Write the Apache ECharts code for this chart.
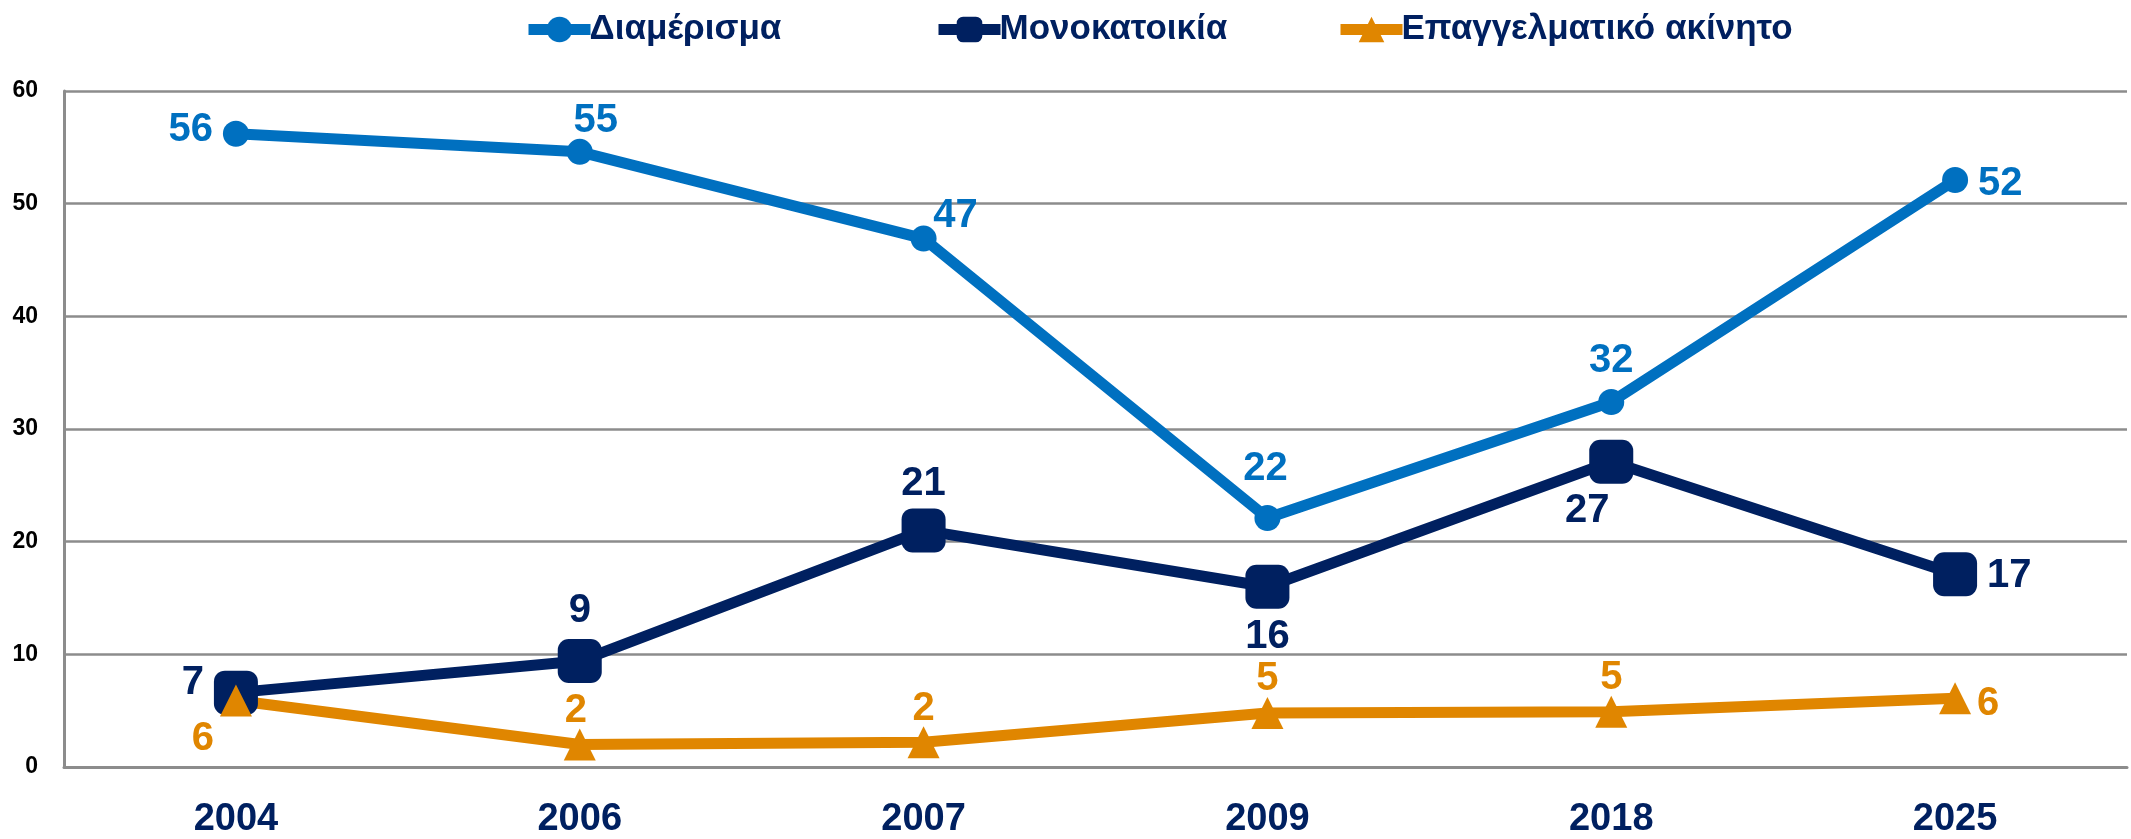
<!DOCTYPE html>
<html>
<head>
<meta charset="utf-8">
<script src="https://cdn.jsdelivr.net/npm/echarts@6/dist/echarts.min.js"></script>
<style>
  html, body { margin: 0; padding: 0; background: #fff; }
  #chart { width: 2131px; height: 839px; }
</style>
</head>
<body>
<div id="chart"></div>
<script>
// data
var years = ['2004', '2006', '2007', '2009', '2018', '2025'];
var diamerisma = [56.2, 54.6, 46.9, 22.1, 32.4, 52.1];
var monokatoikia = [6.6, 9.4, 21.0, 16.0, 27.1, 17.1];
var epaggelmatiko = [5.9, 2.0, 2.2, 4.8, 4.9, 6.1];
var names = ['Διαμέρισμα', 'Μονοκατοικία', 'Επαγγελματικό ακίνητο'];

var FONT = '"Liberation Sans", Arial, sans-serif';
var BLUE = '#0070C0', NAVY = '#002060', ORANGE = '#E08600';

// where each value label sits: [position, offsetX, offsetY]
var blueLbl = [['left', 0, -4], ['top', 16, 12], ['top', 32, 20], ['top', -2, -6], ['top', 0, 2], ['right', 0, 4]];
var navyLbl = [['left', 0, -10], ['top', 0, 2], ['top', 0, 6], ['bottom', 0, -2], ['bottom', -24, -3], ['right', 0, 2]];
var orangeLbl = [['left', 4, 38], ['top', -4, 13], ['top', 0, 13], ['top', 0, 12], ['top', 0, 12], ['right', -4, 6]];

function build(values, lbl) {
  return values.map(function (v, i) {
    return {
      value: v,
      label: { position: lbl[i][0], offset: [lbl[i][1], lbl[i][2]] }
    };
  });
}

function series(name, values, lbl, color, symbol, size) {
  return {
    name: name,
    type: 'line',
    data: build(values, lbl),
    symbol: symbol,
    symbolSize: size,
    lineStyle: { color: color, width: 11 },
    itemStyle: { color: color },
    label: {
      show: true,
      color: color,
      fontFamily: FONT,
      fontWeight: 'bold',
      fontSize: 40,
      distance: 10,
      formatter: function (p) { return Math.round(p.value); }
    },
    emphasis: { disabled: true },
    animation: false
  };
}

function legend(name, left) {
  return {
    data: [name],
    left: left,
    top: 7,
    itemWidth: 62,
    itemHeight: 32,
    itemGap: 0,
    lineStyle: { width: 11 },
    textStyle: { color: NAVY, fontFamily: FONT, fontWeight: 'bold', fontSize: 35, padding: [0, 0, 0, -6] }
  };
}

var chart = echarts.init(document.getElementById('chart'));
chart.setOption({
  backgroundColor: '#fff',
  legend: [legend(names[0], 518), legend(names[1], 928), legend(names[2], 1330)],
  grid: { left: 64, right: 4, top: 91, bottom: 72, outerBoundsMode: 'none' },
  xAxis: {
    type: 'category',
    data: years,
    boundaryGap: true,
    axisLine: { lineStyle: { color: '#8C8C8C', width: 3 } },
    axisTick: { show: false },
    axisLabel: { color: NAVY, fontFamily: FONT, fontWeight: 'bold', fontSize: 38, margin: 34 }
  },
  yAxis: {
    type: 'value',
    min: 0,
    max: 60,
    interval: 10,
    axisLine: { show: true, lineStyle: { color: '#8C8C8C', width: 3 } },
    axisTick: { show: false },
    splitLine: { lineStyle: { color: '#8C8C8C', width: 2.5 } },
    axisLabel: { color: '#000', fontFamily: FONT, fontWeight: 'bold', fontSize: 23, margin: 26 }
  },
  series: [
    series(names[0], diamerisma, blueLbl, BLUE, 'circle', 26),
    series(names[1], monokatoikia, navyLbl, NAVY, 'roundRect', 44),
    series(names[2], epaggelmatiko, orangeLbl, ORANGE, 'triangle', 32)
  ]
});
</script>
</body>
</html>
